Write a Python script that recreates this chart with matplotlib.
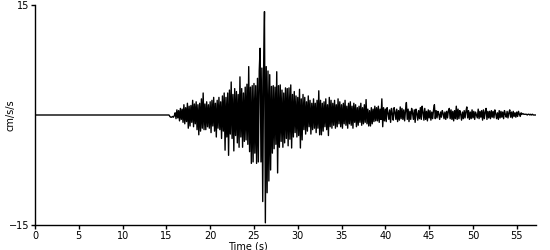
import numpy as np
import matplotlib
matplotlib.use("Agg")
import matplotlib.pyplot as plt

# sampling of the record (s)
dt = 0.1

# quiet part before the first arrival, 0 - 15 s
pre_event = [0.0] * 150

# acceleration peaks, one row per second, from 15 s on
strong_motion = [
    0.0, 0.0, 0.0, 0.0, -0.2, -0.3, -0.3, -0.2, -0.3, -0.1,   # 15
    0.3, -0.5, 0.7, -0.4, 0.6, -0.8, 0.9, -0.6, 0.8, -1.0,    # 16
    1.4, -1.2, 1.0, -0.9, 1.6, -1.8, 1.2, -1.5, 1.3, -1.0,    # 17
    2.0, -1.6, 1.5, -1.2, 1.8, -2.0, 1.4, -2.7, 1.6, -2.2,    # 18
    2.2, -1.8, 3.0, -2.0, 1.5, -2.0, 1.8, -1.6, 1.4, -1.8,    # 19
    1.8, -2.4, 2.0, -1.5, 2.4, -2.2, 1.6, -3.0, 2.0, -1.8,    # 20
    2.4, -2.0, 1.8, -3.2, 2.6, -2.2, 3.0, -4.8, 2.4, -3.0,    # 21
    3.0, -5.5, 3.4, -2.6, 4.5, -3.2, 2.8, -4.9, 3.6, -2.8,    # 22
    3.2, -3.8, 2.8, -4.4, 5.2, -3.0, 3.6, -4.4, 3.0, -3.6,    # 23
    3.8, -3.4, 4.2, -4.0, 6.6, -5.0, 3.8, -6.6, 4.0, -6.4,    # 24
    4.3, -5.2, 4.0, -6.6, 5.0, -6.4, 6.0, 9.1, -6.4, 6.4,     # 25
    -11.8, 6.2, 14.1, -14.7, 6.6, -10.6, 6.0, -9.0, 5.5, -7.5,  # 26
    3.9, -5.2, 4.0, -4.6, 3.8, -4.0, 5.9, -7.9, 4.0, -4.4,    # 27
    4.1, -3.6, 3.4, -4.4, 3.0, -3.8, 3.7, -3.2, 3.6, -4.2,    # 28
    3.7, -3.3, 4.1, -4.5, 2.8, -3.0, 3.2, -2.4, 2.6, -3.0,    # 29
    2.4, -2.8, 3.5, -4.5, 2.2, -3.4, 2.8, -2.0, 2.4, -2.6,    # 30
    1.8, -2.2, 2.6, -1.6, 2.0, -2.6, 1.6, -2.0, 2.2, -1.8,    # 31
    1.6, -2.4, 2.0, -1.8, 3.3, -2.7, 2.0, -2.7, 1.6, -2.2,    # 32
    1.8, -1.6, 2.2, -2.0, 1.4, -2.8, 2.4, -1.6, 2.0, -1.8,    # 33
    1.6, -1.4, 2.0, -1.8, 1.4, -1.6, 2.2, -1.2, 1.8, -1.6,    # 34
    1.4, -1.8, 1.6, -1.2, 2.0, -1.4, 1.2, -1.8, 1.6, -1.2,    # 35
    1.8, -1.4, 1.2, -1.8, 1.6, -1.0, 1.4, -1.6, 1.0, -1.4,    # 36
    1.2, -1.0, 1.6, -1.4, 1.0, -1.2, 1.4, -1.0, 2.1, -1.2,    # 37
    0.8, -1.5, 0.6, -1.5, 1.0, -1.2, 0.8, -0.9, 1.2, -0.8,    # 38
    1.0, -0.8, 1.2, -1.0, 0.8, -0.6, 2.2, -1.6, 1.0, -0.8,    # 39
    0.8, -0.9, 1.0, 0.3, -0.6, 0.7, -1.0, 0.9, 0.2, -0.7,     # 40
    1.0, 0.4, -0.6, 0.8, -0.9, 0.6, -0.7, 1.1, -0.5, 0.9,     # 41
    -0.6, 0.7, -0.8, 0.6, 1.7, -0.6, 0.8, -0.9, 0.5, -0.6,    # 42
    0.9, 0.3, -0.6, 0.7, -1.0, 0.8, 0.2, -0.7, 0.6, -0.5,     # 43
    1.0, -0.6, 1.2, 0.4, -0.7, 0.9, -0.6, 0.5, -0.8, 0.7,     # 44
    -0.4, 0.6, -0.7, 0.4, -0.5, 0.7, 1.4, -0.5, 0.6, -0.4,    # 45
    0.5, 0.1, -0.6, 0.4, -0.3, 0.6, 0.2, -0.5, 0.4, -0.6,     # 46
    0.5, -0.4, 0.6, 0.9, -0.5, 0.7, -0.6, 0.5, -0.8, 0.6,     # 47
    -0.5, 1.2, -0.6, 0.8, -0.5, 0.6, 0.1, -0.7, 0.4, -0.5,    # 48
    0.6, -0.4, 0.5, 1.1, -0.4, 0.6, -0.6, 0.4, -0.5, 0.7,     # 49
    -0.4, 0.5, -0.6, 0.4, 0.0, -0.4, 0.8, -0.5, 0.5, -0.3,    # 50
    0.6, -0.7, 0.7, -0.5, 0.4, 0.9, -0.6, 0.5, -0.4, 0.5,     # 51
    -0.5, 0.6, -0.3, 0.5, -0.4, 0.7, 0.2, -0.5, 0.3, -0.6,    # 52
    0.6, -0.4, 0.5, -0.3, 0.4, -0.5, 0.6, 0.1, -0.3, 0.5,     # 53
    -0.4, 0.3, 0.7, -0.3, 0.4, -0.4, 0.5, -0.2, 0.3, -0.3,    # 54
    0.4, -0.2, 0.5, 0.1, -0.2, 0.3, 0.1, 0.2, 0.1, 0.1,       # 55
    0.1, 0.1, 0.0, 0.1, 0.1, 0.0, 0.1, 0.0, 0.1, 0.0,         # 56
    0.0, 0.0, 0.0,                                            # 57
]

x_ticks = [0, 5, 10, 15, 20, 25, 30, 35, 40, 45, 50, 55]
y_ticks = [-15, 15]

accel = np.array(pre_event + strong_motion)
time = np.arange(len(accel)) * dt

fig = plt.figure(figsize=(5.5, 2.5), dpi=100)
ax = fig.add_axes([35 / 550, 25 / 250, 501 / 550, 220 / 250])

ax.plot(time, accel, color='black', linewidth=1.0)

ax.set_xlim(0, time[-1])
ax.set_ylim(-15, 15)
ax.set_xticks(x_ticks)
ax.set_yticks(y_ticks)
ax.tick_params(axis='both', labelsize=7, length=3, width=1, color='black', pad=1)

# only the left and bottom frame lines
ax.spines['top'].set_visible(False)
ax.spines['right'].set_visible(False)
ax.spines['left'].set_linewidth(1)
ax.spines['bottom'].set_linewidth(1)

ax.set_xlabel('Time (s)', fontsize=7, labelpad=0)
ax.xaxis.set_label_coords(0.425, -0.074)
ax.set_ylabel('cm/s/s', fontsize=7)
ax.yaxis.set_label_coords(-0.038, 0.5)

fig.savefig('out.png', dpi=100)
